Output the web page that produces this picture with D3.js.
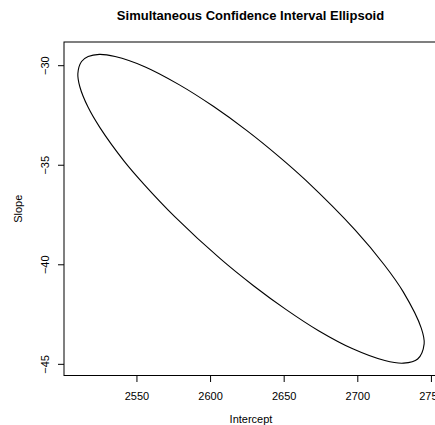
<!DOCTYPE html>
<html>
<head>
<meta charset="utf-8">
<script src="https://cdn.jsdelivr.net/npm/d3@7"></script>
<style>
  body { margin: 0; background: #fff; }
  text { font-family: "Liberation Sans", Arial, sans-serif; fill: #000; }
</style>
</head>
<body>
<div id="chart"></div>
<script>
// ellipse outline (intercept, slope), going round once
var intercept = [2524.8, 2517.2, 2512.7, 2510.2, 2511.6, 2517.1, 2525.2, 2541.6, 2555.3, 2576.0,
                 2606.7, 2629.5, 2651.7, 2673.7, 2696.9, 2718.7, 2731.4, 2741.0, 2745.4, 2743.5,
                 2731.2, 2718.4, 2698.6, 2664.9, 2647.2, 2625.0, 2602.2, 2578.9, 2555.6, 2535.5];
var slope = [-29.43, -29.54, -29.79, -30.40, -31.07, -32.08, -33.11, -34.79, -35.97, -37.58,
             -39.68, -41.05, -42.25, -43.31, -44.22, -44.81, -44.94, -44.73, -43.97, -43.19,
             -41.36, -40.01, -38.26, -35.75, -34.59, -33.26, -32.04, -30.95, -30.05, -29.54];
var xTicks = [2550, 2600, 2650, 2700, 2750];
var yTicks = [-30, -35, -40, -45];

var width = 435, height = 425;
var mLeft = 64, mTop = 42, mRight = 438, mBottom = 375.5;

var svg = d3.select('#chart').append('svg')
    .attr('width', width)
    .attr('height', height);

// R style: 4% padding around data range
function padded(arr) {
    var e = d3.extent(arr), d = (e[1] - e[0]) * 0.04;
    return [e[0] - d, e[1] + d];
}

var x = d3.scaleLinear().domain(padded(intercept)).range([mLeft, mRight]);
var y = d3.scaleLinear().domain(padded(slope)).range([mBottom, mTop]);

var pts = intercept.map(function(v, i){ return [v, slope[i]]; });

var line = d3.line()
    .x(function(d){ return x(d[0]); })
    .y(function(d){ return y(d[1]); })
    .curve(d3.curveCatmullRomClosed.alpha(0.5));

svg.append('path')
    .datum(pts)
    .attr('d', line)
    .attr('fill', 'none')
    .attr('stroke', '#000')
    .attr('stroke-width', 1.1);

// box
svg.append('rect')
    .attr('x', mLeft)
    .attr('y', mTop)
    .attr('width', mRight - mLeft)
    .attr('height', mBottom - mTop)
    .attr('fill', 'none')
    .attr('stroke', '#000')
    .attr('stroke-width', 1);

// x axis
var xAxis = d3.axisBottom(x).tickValues(xTicks).tickSize(6.5).tickPadding(10).tickFormat(d3.format('d'));
var gx = svg.append('g')
    .attr('transform', 'translate(0,' + mBottom + ')')
    .call(xAxis);
gx.select('.domain').remove();
gx.selectAll('line').attr('stroke', '#000');
gx.selectAll('text').style('font-size', '11px').style('font-family', '"Liberation Sans", Arial, sans-serif');

// y axis, labels turned like R's default
var yAxis = d3.axisLeft(y).tickValues(yTicks).tickSize(6).tickFormat(d3.format('d'));
var gy = svg.append('g')
    .attr('transform', 'translate(' + mLeft + ',0)')
    .call(yAxis);
gy.select('.domain').remove();
gy.selectAll('line').attr('stroke', '#000');
gy.selectAll('.tick').attr('transform', null);
gy.selectAll('.tick line').attr('transform', function(d){ return 'translate(0,' + y(d) + ')'; });
gy.selectAll('text')
    .attr('x', null).attr('dy', null).attr('y', null)
    .attr('text-anchor', 'middle')
    .attr('transform', function(d){ return 'translate(-15,' + y(d) + ') rotate(-90)'; })
    .style('font-size', '11px')
    .style('font-family', '"Liberation Sans", Arial, sans-serif');

svg.append('text')
    .attr('x', 250.5)
    .attr('y', 20)
    .attr('text-anchor', 'middle')
    .style('font-size', '13px')
    .style('font-weight', 'bold')
    .text('Simultaneous Confidence Interval Ellipsoid');

svg.append('text')
    .attr('x', (mLeft + mRight) / 2)
    .attr('y', 423)
    .attr('text-anchor', 'middle')
    .style('font-size', '11px')
    .text('Intercept');

svg.append('text')
    .attr('transform', 'translate(22,' + ((mTop + mBottom) / 2) + ') rotate(-90)')
    .attr('text-anchor', 'middle')
    .style('font-size', '11px')
    .text('Slope');
</script>
</body>
</html>
